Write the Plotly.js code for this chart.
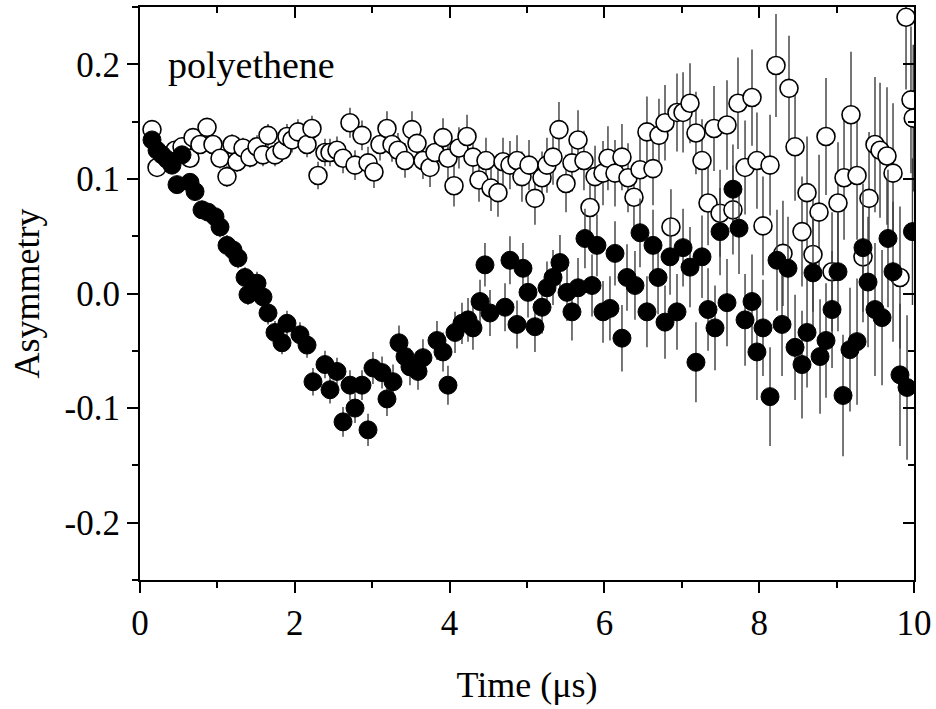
<!DOCTYPE html>
<html>
<head>
<meta charset="utf-8">
<script src="https://cdn.plot.ly/plotly-3.0.1.min.js"></script>
<style>html,body{margin:0;padding:0;background:#fff;}#chart{width:936px;height:709px;}</style>
</head>
<body>
<div id="chart"></div>
<script>
// Filled circles (relaxing series)
const filledTime = [
0.155,0.22,0.284,0.349,0.413,0.478,0.543,0.646,0.711,0.801,
0.879,0.969,1.034,1.124,1.202,1.266,1.357,1.395,1.512,1.589,
1.654,1.744,1.835,1.899,2.067,2.158,2.235,2.39,2.455,2.545,
2.623,2.713,2.778,2.868,2.946,3.01,3.127,3.191,3.269,3.346,
3.424,3.488,3.592,3.656,3.837,3.915,3.979,4.07,4.16,4.238,
4.302,4.393,4.457,4.522,4.716,4.78,4.871,4.948,5.013,5.103,
5.194,5.258,5.336,5.426,5.517,5.581,5.659,5.749,5.84,5.904,
5.982,6.072,6.137,6.227,6.292,6.395,6.46,6.55,6.628,6.693,
6.783,6.848,6.938,7.016,7.106,7.183,7.261,7.339,7.429,7.494,
7.584,7.661,7.739,7.817,7.907,7.971,8.049,8.14,8.23,8.295,
8.372,8.463,8.553,8.618,8.695,8.786,8.863,8.941,9.018,9.083,
9.173,9.264,9.341,9.406,9.496,9.587,9.664,9.729,9.819,9.91,
9.98];
const filledAsym = [
0.134,0.125,0.121,0.117,0.112,0.095,0.121,0.097,0.089,0.073,
0.071,0.067,0.058,0.042,0.038,0.031,0.014,-0.001,0.009,-0.003,
-0.017,-0.034,-0.043,-0.026,-0.036,-0.045,-0.077,-0.062,-0.084,-0.068,
-0.112,-0.080,-0.100,-0.080,-0.119,-0.065,-0.069,-0.092,-0.077,-0.043,
-0.055,-0.064,-0.068,-0.056,-0.041,-0.051,-0.080,-0.034,-0.026,-0.023,
-0.030,-0.007,0.025,-0.017,-0.012,0.029,-0.027,0.022,0.001,-0.029,
-0.012,0.005,0.014,0.027,0.001,-0.016,0.005,0.048,0.007,0.042,
-0.016,-0.013,0.035,-0.039,0.014,0.007,0.053,-0.016,0.042,0.014,
-0.025,0.032,-0.016,0.040,0.023,-0.060,0.032,-0.014,-0.030,0.054,
-0.008,0.091,0.057,-0.023,-0.007,-0.051,-0.030,-0.090,0.029,-0.027,
0.022,-0.047,-0.062,-0.034,0.018,-0.055,-0.041,-0.014,0.019,-0.089,
-0.049,-0.042,0.040,0.010,-0.014,-0.021,0.048,0.019,-0.071,-0.082,
0.054];
const filledErr = [
0.006,0.006,0.006,0.007,0.007,0.007,0.007,0.008,0.008,0.008,
0.008,0.008,0.009,0.009,0.009,0.009,0.009,0.009,0.010,0.010,
0.010,0.010,0.010,0.011,0.011,0.011,0.012,0.012,0.012,0.012,
0.013,0.013,0.013,0.013,0.014,0.014,0.014,0.015,0.015,0.015,
0.015,0.016,0.016,0.016,0.017,0.017,0.017,0.018,0.018,0.019,
0.019,0.019,0.019,0.020,0.021,0.021,0.021,0.022,0.022,0.022,
0.023,0.023,0.024,0.024,0.025,0.025,0.026,0.026,0.027,0.027,
0.027,0.028,0.028,0.029,0.029,0.030,0.030,0.031,0.031,0.032,
0.032,0.033,0.033,0.034,0.035,0.035,0.036,0.036,0.037,0.038,
0.038,0.039,0.040,0.040,0.041,0.042,0.042,0.043,0.044,0.045,
0.045,0.046,0.047,0.048,0.049,0.050,0.050,0.051,0.052,0.053,
0.054,0.055,0.056,0.057,0.058,0.059,0.060,0.061,0.062,0.063,
0.064];

// Open circles (nearly flat series)
const openTime = [
0.155,0.22,0.452,0.543,0.646,0.685,0.775,0.866,0.943,1.034,
1.124,1.189,1.253,1.331,1.421,1.512,1.589,1.654,1.744,1.835,
1.899,1.964,2.041,2.158,2.222,2.3,2.39,2.455,2.545,2.623,
2.713,2.778,2.868,2.946,3.023,3.101,3.191,3.256,3.333,3.424,
3.514,3.579,3.656,3.747,3.811,3.915,3.979,4.057,4.121,4.225,
4.302,4.38,4.47,4.535,4.625,4.69,4.78,4.871,4.935,5.026,
5.103,5.194,5.258,5.336,5.413,5.504,5.581,5.659,5.736,5.814,
5.879,5.982,6.046,6.137,6.227,6.305,6.382,6.46,6.55,6.628,
6.705,6.783,6.86,6.938,7.016,7.106,7.183,7.261,7.339,7.416,
7.494,7.584,7.661,7.726,7.817,7.907,7.971,8.049,8.14,8.217,
8.307,8.385,8.463,8.553,8.618,8.695,8.773,8.863,8.941,9.018,
9.096,9.186,9.264,9.341,9.419,9.496,9.561,9.651,9.729,9.819,
9.897,9.961,9.99];
const openAsym = [
0.143,0.110,0.125,0.128,0.118,0.136,0.130,0.145,0.130,0.118,
0.102,0.130,0.115,0.127,0.119,0.128,0.121,0.138,0.121,0.125,
0.137,0.134,0.141,0.130,0.144,0.103,0.123,0.123,0.125,0.118,
0.149,0.112,0.138,0.114,0.106,0.130,0.144,0.130,0.125,0.116,
0.143,0.131,0.116,0.110,0.123,0.136,0.118,0.094,0.127,0.137,
0.119,0.099,0.116,0.092,0.088,0.115,0.112,0.116,0.102,0.112,
0.083,0.101,0.112,0.119,0.143,0.096,0.114,0.134,0.116,0.075,
0.102,0.105,0.118,0.105,0.119,0.101,0.084,0.108,0.141,0.109,
0.138,0.149,0.058,0.158,0.158,0.166,0.140,0.116,0.079,0.144,
0.070,0.147,0.073,0.166,0.110,0.171,0.116,0.059,0.112,0.199,
0.035,0.179,0.128,0.054,0.088,0.034,0.071,0.137,0.019,0.079,
0.101,0.156,0.103,0.032,0.083,0.130,0.125,0.120,0.105,0.014,
0.241,0.169,0.153];
const openErr = [
0.006,0.006,0.007,0.007,0.008,0.008,0.008,0.008,0.008,0.009,
0.009,0.009,0.009,0.009,0.009,0.010,0.010,0.010,0.010,0.010,
0.011,0.011,0.011,0.011,0.011,0.012,0.012,0.012,0.012,0.013,
0.013,0.013,0.013,0.014,0.014,0.014,0.015,0.015,0.015,0.015,
0.016,0.016,0.016,0.017,0.017,0.017,0.018,0.018,0.018,0.019,
0.019,0.019,0.020,0.020,0.021,0.021,0.021,0.022,0.022,0.022,
0.023,0.023,0.024,0.024,0.024,0.025,0.025,0.026,0.026,0.027,
0.027,0.028,0.028,0.029,0.029,0.030,0.030,0.031,0.031,0.032,
0.032,0.033,0.033,0.034,0.035,0.035,0.036,0.036,0.037,0.037,
0.038,0.039,0.039,0.040,0.041,0.042,0.042,0.043,0.044,0.045,
0.046,0.046,0.047,0.048,0.049,0.050,0.050,0.051,0.052,0.053,
0.054,0.055,0.056,0.057,0.058,0.059,0.059,0.060,0.061,0.062,
0.063,0.064,0.064];

const yTickVals = [-0.2,-0.1,0.0,0.1,0.2];
const yTickLabels = ['-0.2','-0.1','0.0','0.1','0.2'];
const xTickVals = [0,2,4,6,8,10];
const xTickLabels = ['0','2','4','6','8','10'];
const sampleLabel = 'polyethene';
const xTitle = 'Time (μs)';
const yTitle = 'Asymmetry';

const FONT = 'Liberation Serif, Times New Roman, serif';

const traces = [
  {
    x: openTime, y: openAsym, type: 'scatter', mode: 'markers',
    marker: {symbol: 'circle', size: 18, color: 'white', line: {color: 'black', width: 1.6}},
    error_y: {type: 'data', array: openErr, visible: true, color: '#3c3c3c', thickness: 1.4, width: 0},
    cliponaxis: true, hoverinfo: 'skip'
  },
  {
    x: filledTime, y: filledAsym, type: 'scatter', mode: 'markers',
    marker: {symbol: 'circle', size: 18, color: 'black', line: {color: 'black', width: 1}},
    error_y: {type: 'data', array: filledErr, visible: true, color: '#3c3c3c', thickness: 1.4, width: 0},
    cliponaxis: true, hoverinfo: 'skip'
  },
  { x: [], y: [], xaxis: 'x2', yaxis: 'y2', type: 'scatter', mode: 'markers', showlegend: false, hoverinfo: 'skip' }
];

const common = {showgrid: false, zeroline: false, showline: true, linewidth: 2, linecolor: 'black', tickwidth: 2, tickcolor: 'black'};

const layout = {
  width: 936, height: 709,
  margin: {l: 140, r: 22, t: 7, b: 129},
  paper_bgcolor: 'white', plot_bgcolor: 'white',
  showlegend: false,
  font: {family: FONT, size: 35, color: 'black'},
  xaxis: Object.assign({}, common, {
    range: [0, 10], tickmode: 'array', tickvals: xTickVals, ticktext: xTickLabels,
    ticks: 'outside', ticklen: 11,
    minor: {tickmode: 'linear', tick0: 0, dtick: 1, ticks: 'outside', ticklen: 6, tickwidth: 2, tickcolor: 'black'},
    tickfont: {family: FONT, size: 35},
    title: {text: xTitle, standoff: 30, font: {family: FONT, size: 36}}
  }),
  yaxis: Object.assign({}, common, {
    range: [-0.25, 0.25], tickmode: 'array', tickvals: yTickVals, ticktext: yTickLabels,
    ticks: 'outside', ticklen: 11,
    minor: {tickmode: 'linear', tick0: 0, dtick: 0.05, ticks: 'outside', ticklen: 6, tickwidth: 2, tickcolor: 'black'},
    tickfont: {family: FONT, size: 35},
    title: {text: yTitle, standoff: 14, font: {family: FONT, size: 36}}
  }),
  xaxis2: Object.assign({}, common, {
    overlaying: 'x', side: 'top', anchor: 'y2', range: [0, 10],
    tickmode: 'array', tickvals: xTickVals, ticks: 'inside', ticklen: 11, showticklabels: false,
    minor: {tickmode: 'linear', tick0: 0, dtick: 1, ticks: 'inside', ticklen: 6, tickwidth: 2, tickcolor: 'black'}
  }),
  yaxis2: Object.assign({}, common, {
    overlaying: 'y', side: 'right', anchor: 'x2', range: [-0.25, 0.25],
    tickmode: 'array', tickvals: yTickVals, ticks: 'inside', ticklen: 11, showticklabels: false,
    minor: {tickmode: 'linear', tick0: 0, dtick: 0.05, ticks: 'inside', ticklen: 6, tickwidth: 2, tickcolor: 'black'}
  }),
  annotations: [{
    text: sampleLabel, xref: 'paper', yref: 'paper', x: 0.034, y: 0.899,
    xanchor: 'left', yanchor: 'middle', showarrow: false,
    font: {family: FONT, size: 38, color: 'black'}
  }]
};

Plotly.newPlot('chart', traces, layout, {staticPlot: true, displayModeBar: false});
</script>
</body>
</html>
